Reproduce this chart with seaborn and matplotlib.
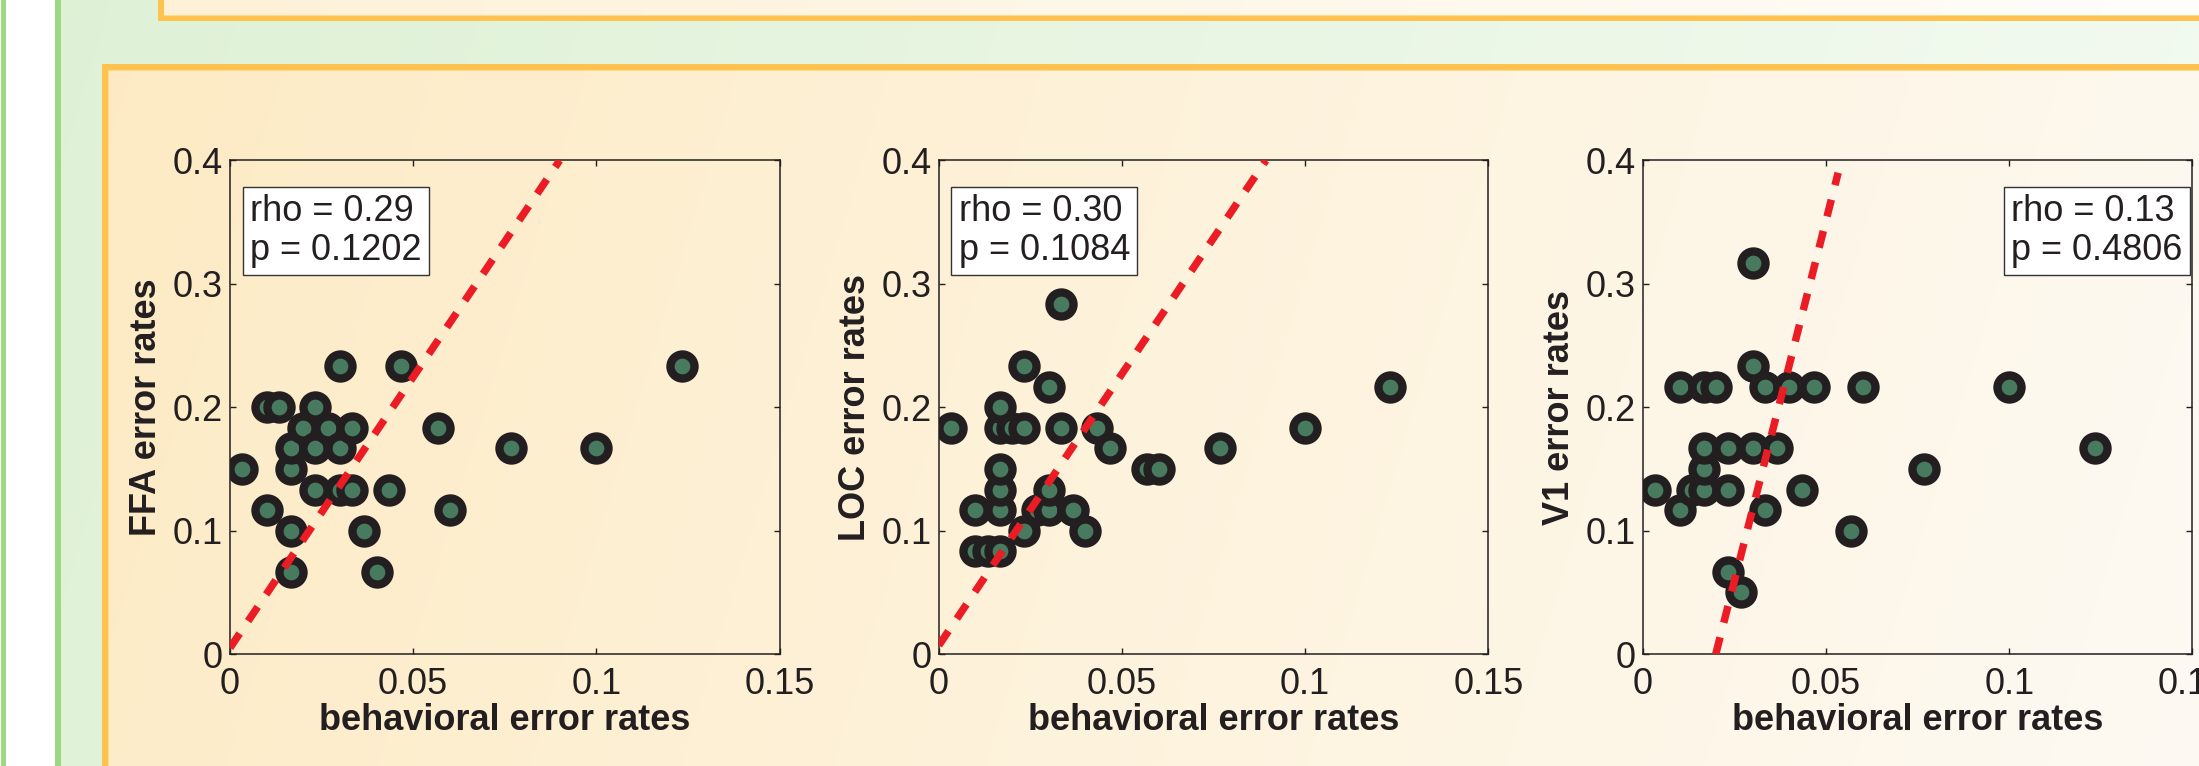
import numpy as np
import matplotlib
matplotlib.use("Agg")
import matplotlib.pyplot as plt
import seaborn as sns

# ---------------- data ----------------
ffa_x = [0.0033, 0.0100, 0.0100, 0.0133, 0.0167, 0.0167, 0.0167, 0.0167, 0.0200,
         0.0233, 0.0233, 0.0233, 0.0267, 0.0300, 0.0300, 0.0300, 0.0333, 0.0333,
         0.0367, 0.0400, 0.0433, 0.0467, 0.0567, 0.0600, 0.0767, 0.1000, 0.1233]
ffa_y = [0.1500, 0.1167, 0.2000, 0.2000, 0.1500, 0.1667, 0.1000, 0.0667, 0.1833,
         0.2000, 0.1667, 0.1333, 0.1833, 0.2333, 0.1667, 0.1333, 0.1833, 0.1333,
         0.1000, 0.0667, 0.1333, 0.2333, 0.1833, 0.1167, 0.1667, 0.1667, 0.2333]

loc_x = [0.0033, 0.0100, 0.0100, 0.0133, 0.0167, 0.0167, 0.0167, 0.0167, 0.0167,
         0.0167, 0.0200, 0.0233, 0.0233, 0.0233, 0.0267, 0.0300, 0.0300, 0.0300,
         0.0333, 0.0333, 0.0367, 0.0400, 0.0433, 0.0467, 0.0567, 0.0600, 0.0767,
         0.1000, 0.1233]
loc_y = [0.1833, 0.1167, 0.0833, 0.0833, 0.0833, 0.1167, 0.1333, 0.1500, 0.1833,
         0.2000, 0.1833, 0.1833, 0.2333, 0.1000, 0.1167, 0.1167, 0.1333, 0.2167,
         0.2833, 0.1833, 0.1167, 0.1000, 0.1833, 0.1667, 0.1500, 0.1500, 0.1667,
         0.1833, 0.2167]

v1_x = [0.0033, 0.0100, 0.0100, 0.0133, 0.0167, 0.0167, 0.0167, 0.0167, 0.0200,
        0.0233, 0.0233, 0.0233, 0.0267, 0.0300, 0.0300, 0.0300, 0.0333, 0.0333,
        0.0367, 0.0400, 0.0433, 0.0467, 0.0567, 0.0600, 0.0767, 0.1000, 0.1233]
v1_y = [0.1333, 0.1167, 0.2167, 0.1333, 0.1333, 0.1500, 0.1667, 0.2167, 0.2167,
        0.1667, 0.1333, 0.0667, 0.0500, 0.3167, 0.2333, 0.1667, 0.2167, 0.1167,
        0.1667, 0.2167, 0.1333, 0.2167, 0.1000, 0.2167, 0.1500, 0.2167, 0.1667]

# fitted (dashed) lines: end points
ffa_fit_x = [0.0, 0.0900]
ffa_fit_y = [0.005, 0.400]
loc_fit_x = [0.0, 0.0893]
loc_fit_y = [0.007, 0.400]
v1_fit_x = [0.0199, 0.0533]
v1_fit_y = [0.000, 0.390]

regions = ["FFA", "LOC", "V1"]
rho_vals = ["0.29", "0.30", "0.13"]
p_vals = ["0.1202", "0.1084", "0.4806"]

x_ticks = [0, 0.05, 0.1, 0.15]
x_tick_labels = ["0", "0.05", "0.1", "0.15"]
y_ticks = [0, 0.1, 0.2, 0.3, 0.4]
y_tick_labels = ["0", "0.1", "0.2", "0.3", "0.4"]
x_label = "behavioral error rates"

# ---------------- style ----------------
sns.set_style("ticks")
plt.rcParams["font.family"] = ["Liberation Sans", "DejaVu Sans"]

W, H = 2199, 766
DPI = 100
fig = plt.figure(figsize=(W / DPI, H / DPI), dpi=DPI)

# ---------------- poster-style background (decoration) ----------------
def hexrgb(h):
    return np.array([int(h[i:i + 2], 16) for i in (1, 3, 5)]) / 255.0

yy, xx = np.mgrid[0:H, 0:W].astype(float)
t = np.clip((xx + 0.3 * yy) / (W + 0.3 * H), 0, 1)[..., None]

def grad(c0, c1):
    return hexrgb(c0) * (1 - t) + hexrgb(c1) * t

img = np.ones((H, W, 3))
green_line = hexrgb("#9dd782")
orange = hexrgb("#ffc24e")
orange_light = hexrgb("#ffd98c")
g_bg = grad("#def1d5", "#f4fbf2")
img[:, 61:] = g_bg[:, 61:]
img[:, 1:6] = green_line
img[:, 55:61] = green_line
top_fill = grad("#fef0d4", "#ffffff")
img[:16, 164:] = top_fill[:16, 164:]
img[16:21, 158:] = orange
img[:21, 158:164] = orange
img[15:16, 164:] = orange_light
low_fill = grad("#fdeac2", "#fefaf3")
img[70:, 108:] = low_fill[70:, 108:]
img[64:70, 102:] = orange
img[64:, 102:108] = orange
img[70:71, 108:] = orange_light
img[70:, 108:109] = orange_light

bg = fig.add_axes([0, 0, 1, 1], zorder=-10)
bg.imshow(img, aspect="auto", interpolation="nearest", extent=(0, W, H, 0))
bg.set_axis_off()

# ---------------- panels ----------------
ink = "#231f20"
green = "#477a5f"
red = "#ec1c24"

lefts_px = [230, 938.8, 1642.9]
ax_w_px, ax_h_px = 549.5, 493.6
bottom_px = 654.0

data = [(ffa_x, ffa_y, ffa_fit_x, ffa_fit_y),
        (loc_x, loc_y, loc_fit_x, loc_fit_y),
        (v1_x, v1_y, v1_fit_x, v1_fit_y)]

for i, (xs, ys, fx, fy) in enumerate(data):
    ax = fig.add_axes([lefts_px[i] / W, (H - bottom_px) / H, ax_w_px / W, ax_h_px / H])
    ax.set_facecolor("none")
    sns.scatterplot(x=xs, y=ys, ax=ax, s=300, color=green, edgecolor=ink,
                    linewidth=6.0, zorder=2, legend=False)
    sns.lineplot(x=fx, y=fy, ax=ax, color=red, linewidth=5.4, zorder=3,
                 legend=False, estimator=None, sort=False)
    ln = ax.lines[-1]
    ln.set_dashes((2.3, 2.0))
    ln.set_dash_capstyle("butt")

    ax.set_xlim(0, 0.15)
    ax.set_ylim(0, 0.4)
    ax.set_xticks(x_ticks)
    ax.set_xticklabels(x_tick_labels)
    ax.set_yticks(y_ticks)
    ax.set_yticklabels(y_tick_labels)
    ax.tick_params(direction="in", length=4, width=1.0, top=True, right=True,
                   labelsize=26, colors=ink, labelcolor=ink)
    ax.tick_params(axis="x", pad=9)
    ax.tick_params(axis="y", pad=5)
    for sp in ax.spines.values():
        sp.set_visible(True)
        sp.set_color(ink)
        sp.set_linewidth(1.1)
    ax.set_xlabel(x_label, fontsize=26, fontweight="bold", color=ink, labelpad=1)
    ax.set_ylabel(f"{regions[i]} error rates", fontsize=26, fontweight="bold",
                  color=ink, labelpad=6)

    txt = f"rho = {rho_vals[i]}\np = {p_vals[i]}"
    bbox = dict(boxstyle="square,pad=0.2", fc="white", ec="#333333", lw=1.0)
    if i < 2:
        ax.text(0.036, 0.932, txt, transform=ax.transAxes, ha="left", va="top",
                fontsize=26, color=ink, linespacing=1.15, bbox=bbox, zorder=5)
    else:
        ax.text(0.982, 0.932, txt, transform=ax.transAxes, ha="right", va="top",
                multialignment="left", fontsize=26, color=ink, linespacing=1.15,
                bbox=bbox, zorder=5)

fig.savefig("out.png", dpi=DPI)
